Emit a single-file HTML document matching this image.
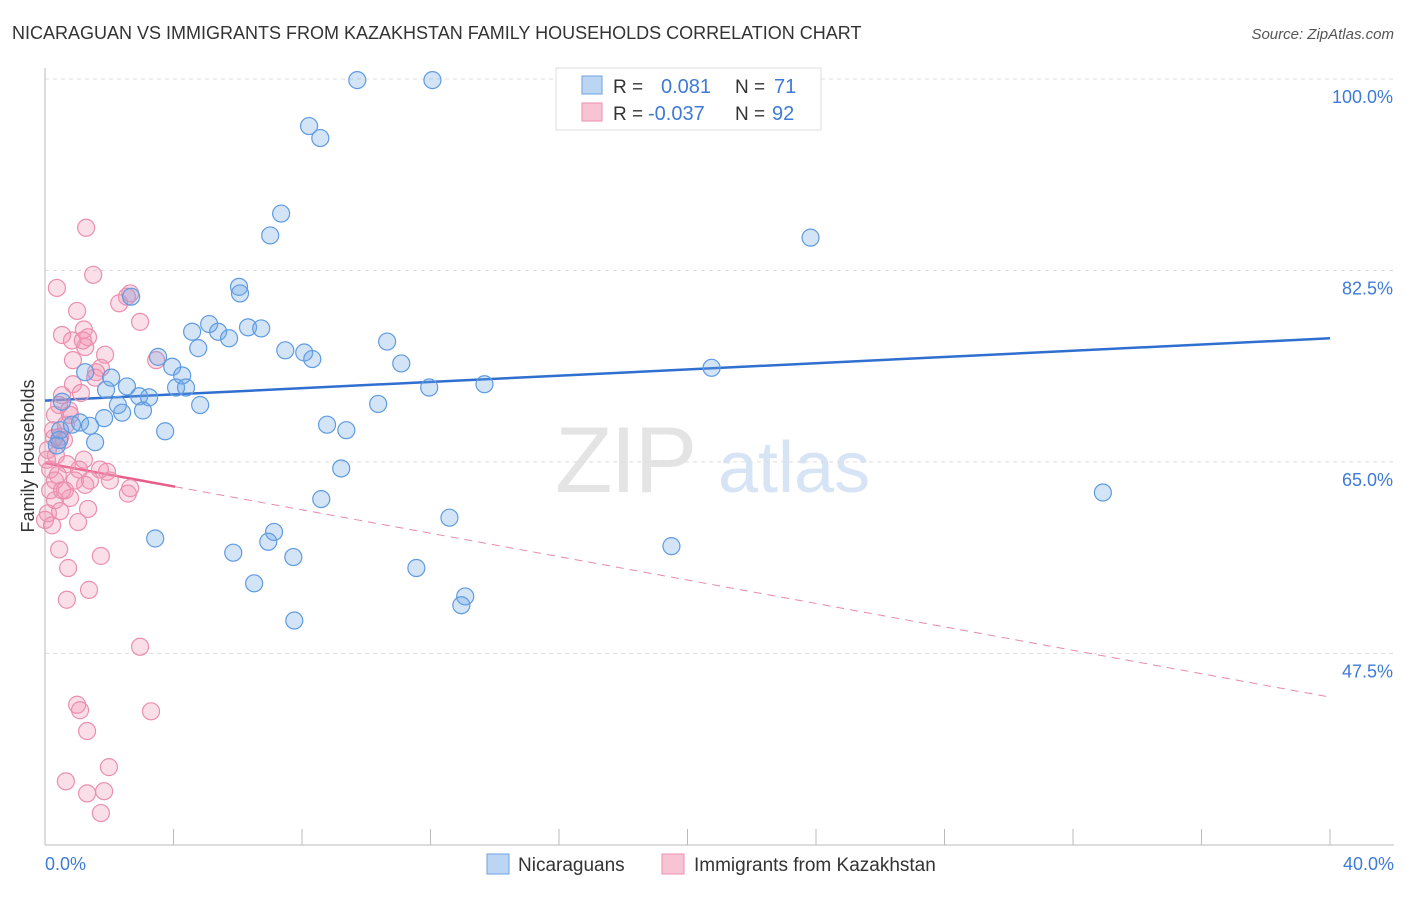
<!DOCTYPE html>
<html><head><meta charset="utf-8">
<style>
body{margin:0;background:#fff;font-family:"Liberation Sans",sans-serif;}
svg text{font-family:"Liberation Sans",sans-serif;}
</style></head>
<body>
<svg id="chart" width="1406" height="892" viewBox="0 0 1406 892" xmlns="http://www.w3.org/2000/svg">
<text x="12" y="39" font-size="18" fill="#333">NICARAGUAN VS IMMIGRANTS FROM KAZAKHSTAN FAMILY HOUSEHOLDS CORRELATION CHART</text>
<text x="1394" y="39" font-size="15" fill="#555" text-anchor="end" font-style="italic">Source: ZipAtlas.com</text>
<g>
<text x="555" y="492" font-size="94" fill="#e4e4e4" font-family="Liberation Serif" letter-spacing="-2">ZIP</text>
<text x="718" y="492" font-size="72" fill="#d6e4f5">atlas</text>
</g>
<g id="grid"></g>
<g id="axes"></g>
<g id="lines"></g>
<g id="points"></g>
<text transform="translate(34,456) rotate(-90)" font-size="18" fill="#333" text-anchor="middle">Family Households</text>
<g>
<rect x="556" y="68" width="265" height="62" fill="#fff" stroke="#ddd"/>
<rect x="582" y="76" width="20" height="18" fill="#bcd5f3" stroke="#6fa2e0"/>
<rect x="582" y="103" width="20" height="18" fill="#f8c4d4" stroke="#ec8fae"/>
<text x="613" y="93" font-size="19" fill="#333">R =</text>
<text x="661" y="93" font-size="20" fill="#3e7bd6">0.081</text>
<text x="735" y="93" font-size="19" fill="#333">N =</text>
<text x="774" y="93" font-size="20" fill="#3e7bd6">71</text>
<text x="613" y="120" font-size="19" fill="#333">R =</text>
<text x="648" y="120" font-size="20" fill="#3e7bd6">-0.037</text>
<text x="735" y="120" font-size="19" fill="#333">N =</text>
<text x="772" y="120" font-size="20" fill="#3e7bd6">92</text>
</g>
<g>
<rect x="487" y="854" width="22" height="20" fill="#bcd5f3" stroke="#6fa2e0"/>
<text x="518" y="871" font-size="19" fill="#333">Nicaraguans</text>
<rect x="662" y="854" width="22" height="20" fill="#f8c4d4" stroke="#ec8fae"/>
<text x="694" y="871" font-size="19" fill="#333">Immigrants from Kazakhstan</text>
</g>
</svg>
<script>
const yTicks=[100,82.5,65,47.5];
const yTickLabels=["100.0%","82.5%","65.0%","47.5%"];
const xTickLabels=["0.0%","40.0%"];
const blueX=[9.72,12.06,21.9,8.22,8.57,7.35,7.01,23.83,6.04,6.07,2.68,5.11,4.58,5.39,5.73,6.32,6.73,10.65,4.77,7.48,8.07,8.32,3.52,3.96,11.09,20.75,1.25,4.27,2.06,2.55,4.08,4.39,11.96,13.68,1.90,2.93,3.24,4.83,2.27,3.05,2.40,10.37,0.53,1.84,1.09,8.78,9.38,3.74,1.40,1.56,0.44,9.22,32.93,8.60,12.59,3.43,7.13,6.95,5.86,7.73,19.50,11.56,6.51,13.08,12.96,7.76,0.47,0.84,0.37];
const blueY=[99.9,99.9,99.9,95.7,94.6,87.7,85.7,85.5,81.0,80.4,80.1,77.6,76.9,76.9,76.3,77.3,77.2,76.0,75.4,75.2,75.0,74.4,74.6,73.7,74.0,73.6,73.2,72.9,72.7,71.9,71.8,71.8,71.8,72.1,71.6,71.0,70.9,70.2,70.2,69.7,69.5,70.3,70.5,69.0,68.6,68.4,67.9,67.8,68.3,66.8,67.0,64.4,62.2,61.6,59.9,58.0,58.6,57.7,56.7,56.3,57.3,55.3,53.9,52.7,51.9,50.5,67.9,68.4,66.5];
const pinkX=[1.28,1.50,0.37,2.65,2.55,2.31,2.96,1.00,0.53,0.84,1.21,1.25,1.34,1.18,1.87,3.46,1.74,1.59,0.87,0.53,1.12,0.75,0.44,0.31,0.78,0.28,0.47,0.09,0.59,0.34,1.21,0.68,0.16,0.40,1.93,1.06,1.40,2.65,2.58,0.16,0.31,0.78,1.34,0.09,0.47,1.03,1.74,0.44,0.72,1.37,0.68,2.96,1.00,1.09,3.30,1.31,1.99,0.65,1.31,1.84,1.74,0.0,0.22,0.62,0.93,1.25,0.06,0.25,1.71,2.02,1.56,0.87,0.65,0.31,0.53];
const pinkY=[86.4,82.1,80.9,80.4,80.1,79.5,77.8,78.8,76.6,76.1,77.1,75.5,76.4,76.1,74.8,74.3,73.6,73.2,72.1,71.1,71.3,69.7,70.2,69.3,69.3,67.2,67.3,66.1,67.0,65.6,65.2,64.8,64.3,63.8,64.1,64.3,63.3,62.6,62.1,62.4,61.5,61.7,60.7,60.3,60.5,59.5,56.4,57.0,55.3,53.3,52.4,48.1,42.8,42.3,42.2,40.4,37.1,35.8,34.7,34.9,32.9,59.7,59.2,62.4,63.3,62.9,65.2,67.9,64.3,63.3,72.7,74.3,68.4,63.3,62.4];
const blueTrend=[70.6,76.3];
const pinkTrend=[64.9,43.5];
const pinkSolidEnd=4.05;

const NS="http://www.w3.org/2000/svg";
const xS=v=>45+v*32.125;
const yS=v=>79+(100-v)*10.94;
function mk(tag,attrs,parent){const e=document.createElementNS(NS,tag);for(const k in attrs)e.setAttribute(k,attrs[k]);document.getElementById(parent).appendChild(e);return e;}

yTicks.forEach((t,i)=>{
  const g=mk('line',{x1:45,x2:1394,y1:yS(t),y2:yS(t),stroke:'#ddd','stroke-dasharray':'4,4'},'grid');
  
  
  const tx=mk('text',{x:1393,y:yS(t)+24,'font-size':18,fill:'#3e7bd6','text-anchor':'end'},'grid');
  tx.textContent=yTickLabels[i];
  
  
});
const ax=mk('line',{x1:45,x2:45,y1:68,y2:845,stroke:'#bbb'},'axes');


const bx=mk('line',{x1:45,x2:1394,y1:845,y2:845,stroke:'#bbb'},'axes');


for(let v=0;v<=40;v+=4){
  const t=mk('line',{x1:xS(v),x2:xS(v),y1:829,y2:845,stroke:'#bbb'},'axes');
  
  
}
const xl0=mk('text',{x:45,y:870,'font-size':18,fill:'#3e7bd6'},'axes');
xl0.textContent=xTickLabels[0];


const xl1=mk('text',{x:1394,y:870,'font-size':18,fill:'#3e7bd6','text-anchor':'end'},'axes');
xl1.textContent=xTickLabels[1];



pinkX.forEach((x,i)=>{
  const c=mk('circle',{cx:xS(x),cy:yS(pinkY[i]),r:8.5,fill:'rgba(242,150,180,0.3)',stroke:'#ea8fae','stroke-width':1.2},'points');
  
  
});
blueX.forEach((x,i)=>{
  const c=mk('circle',{cx:xS(x),cy:yS(blueY[i]),r:8.5,fill:'rgba(110,165,230,0.3)',stroke:'#5f9be0','stroke-width':1.2},'points');
  
  
});
const bl=mk('line',{x1:xS(0),y1:yS(blueTrend[0]),x2:xS(40),y2:yS(blueTrend[1]),stroke:'#2f6fd0','stroke-width':2.5},'lines');


const pAt=x=>pinkTrend[0]+(pinkTrend[1]-pinkTrend[0])*x/40;
const ps=mk('line',{x1:xS(0),y1:yS(pAt(0)),x2:xS(pinkSolidEnd),y2:yS(pAt(pinkSolidEnd)),stroke:'#e85c88','stroke-width':2.5},'lines');


const pd=mk('line',{x1:xS(pinkSolidEnd),y1:yS(pAt(pinkSolidEnd)),x2:xS(40),y2:yS(pAt(40)),stroke:'#e88aa8','stroke-width':1,'stroke-dasharray':'8,6'},'lines');


</script>
</body></html>
